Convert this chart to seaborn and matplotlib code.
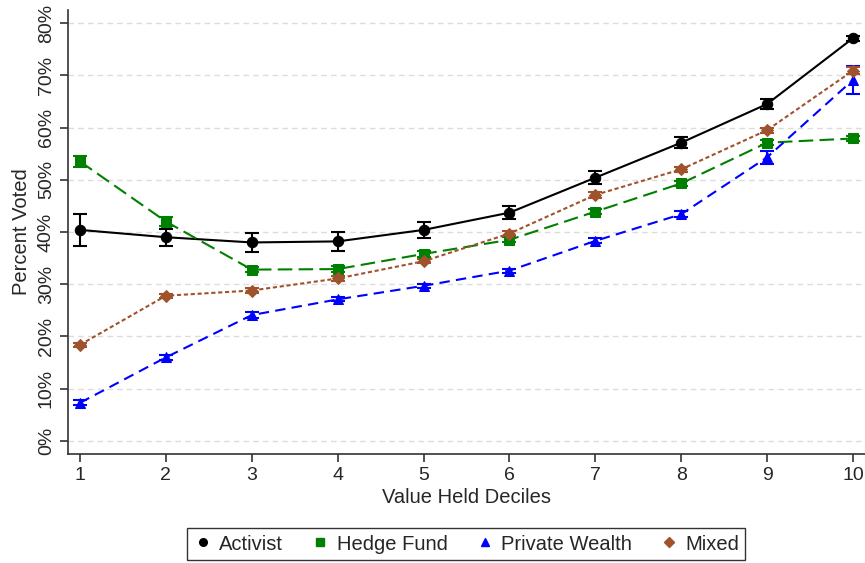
import numpy as np
import pandas as pd
import matplotlib
matplotlib.use("Agg")
import matplotlib.pyplot as plt
import seaborn as sns
from matplotlib.ticker import FuncFormatter

deciles = [1, 2, 3, 4, 5, 6, 7, 8, 9, 10]

activist = [40.4, 39.0, 38.0, 38.2, 40.4, 43.7, 50.4, 57.1, 64.5, 77.1]
activist_err = [3.0, 1.6, 1.9, 1.8, 1.5, 1.3, 1.3, 1.1, 0.9, 0.5]

hedge_fund = [53.5, 42.0, 32.8, 32.9, 35.8, 38.5, 43.9, 49.3, 57.1, 57.9]
hedge_fund_err = [1.0, 0.9, 0.5, 0.5, 0.5, 0.5, 0.5, 0.5, 0.5, 0.4]

private_wealth = [7.3, 16.0, 24.1, 27.1, 29.7, 32.6, 38.3, 43.4, 54.3, 69.1]
private_wealth_err = [0.5, 0.5, 0.5, 0.4, 0.4, 0.4, 0.5, 0.6, 1.2, 2.6]

mixed = [18.4, 27.8, 28.8, 31.1, 34.4, 39.7, 47.1, 52.0, 59.5, 70.9]
mixed_err = [0.4, 0.4, 0.4, 0.4, 0.4, 0.4, 0.5, 0.5, 0.5, 0.6]

groups = ["Activist", "Hedge Fund", "Private Wealth", "Mixed"]
values = [activist, hedge_fund, private_wealth, mixed]
errors = [activist_err, hedge_fund_err, private_wealth_err, mixed_err]

colors = {"Activist": "#000000", "Hedge Fund": "#008000",
          "Private Wealth": "#0000FF", "Mixed": "#A0522D"}
markers = {"Activist": "o", "Hedge Fund": "s",
           "Private Wealth": "^", "Mixed": "D"}
marker_sizes = {"Activist": 7.5, "Hedge Fund": 7, "Private Wealth": 7.5, "Mixed": 6}
dashes = {"Activist": "", "Hedge Fund": (7, 3), "Private Wealth": (5, 3),
          "Mixed": (2, 1.3)}

df = pd.DataFrame({
    "decile": np.tile(deciles, len(groups)),
    "pct": np.concatenate(values),
    "err": np.concatenate(errors),
    "group": np.repeat(groups, len(deciles)),
})

sns.set_theme(style="white")
plt.rcParams["font.family"] = ["Liberation Sans", "DejaVu Sans"]

fig = plt.figure(figsize=(8.65, 5.63), dpi=100)
ax = fig.add_axes([68 / 865, (563 - 454) / 563, (865 - 68) / 865, (454 - 10) / 563])

# light dashed horizontal grid
for yv in range(0, 81, 10):
    ax.axhline(yv, color="#dcdcdc", lw=1.0, ls=(0, (4, 3)), zorder=0)

for g in groups:
    sub = df[df["group"] == g]
    ax.errorbar(sub["decile"], sub["pct"], yerr=sub["err"], fmt="none",
                ecolor=colors[g], elinewidth=1.5, capsize=5, capthick=1.5,
                zorder=2)
    sns.lineplot(data=sub, x="decile", y="pct", ax=ax, color=colors[g],
                 marker=markers[g], markersize=marker_sizes[g],
                 markeredgecolor=colors[g], linewidth=1.5,
                 dashes=False, errorbar=None, label=g, zorder=3)
    line = ax.get_lines()[-1]
    if dashes[g]:
        line.set_dashes(dashes[g])

ax.set_xlim(0.86, 10.14)
ax.set_ylim(-2.5, 82.5)
ax.set_xticks(deciles)
ax.set_yticks(range(0, 81, 10))
ax.yaxis.set_major_formatter(FuncFormatter(lambda v, p: f"{int(v)}%"))
ax.tick_params(axis="both", which="major", length=6, width=1.2,
               color="#333333", labelsize=14, direction="out",
               left=True, bottom=True)
for lab in ax.get_yticklabels():
    lab.set_rotation(90)
    lab.set_va("center")

for side in ["top", "right"]:
    ax.spines[side].set_visible(False)
for side in ["left", "bottom"]:
    ax.spines[side].set_color("#333333")
    ax.spines[side].set_linewidth(1.2)

ax.set_xlabel("Value Held Deciles", fontsize=14.5, labelpad=3)
ax.set_ylabel("Percent Voted", fontsize=14.5, labelpad=5)

ax.get_legend().remove()
handles = [plt.Line2D([], [], ls="none", marker=markers[g], color=colors[g],
                      markersize=5.5 if g != "Mixed" else 5) for g in groups]
leg = fig.legend(handles, groups, loc="center", ncol=4,
                 bbox_to_anchor=(466 / 865, 1 - 544 / 563),
                 fontsize=14.5, frameon=True, fancybox=False,
                 edgecolor="#000000", handletextpad=0.3, columnspacing=1.35,
                 borderpad=0.3, handlelength=1.0)
leg.get_frame().set_linewidth(1.0)

fig.savefig("out.png", dpi=100)
